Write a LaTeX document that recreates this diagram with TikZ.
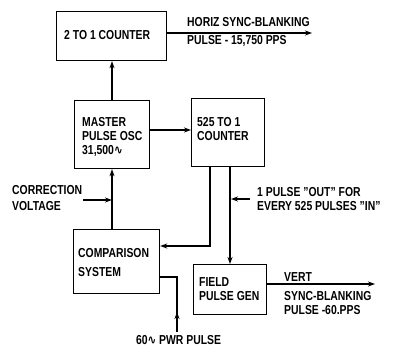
\documentclass[tikz,border=0pt]{standalone}
\usepackage{fontspec}
\setmainfont[FakeStretch=0.8]{Liberation Sans}
\newfontfamily\dvfont[FakeStretch=0.8]{DejaVu Sans}
\usetikzlibrary{arrows.meta}
\newcommand{\sinewave}{{\dvfont\bfseries\char"223F}}
\tikzset{
  blk/.style={draw, line width=1.2pt},
  wire/.style={line width=1.1pt},
  arr/.style={wire, -{Stealth[length=7pt,width=5pt]}},
  lbl/.style={font=\fontsize{13}{14}\selectfont\bfseries, inner sep=0pt, align=left, anchor=west},
}
\begin{document}
\begin{tikzpicture}[x=1pt,y=-1pt]
\useasboundingbox (0,0) rectangle (400,350);
% boxes
\node[blk, minimum width=110pt, minimum height=49pt, anchor=north west] (c2) at (56,11) {};
\node[blk, minimum width=75pt, minimum height=68pt, anchor=north west] (mas) at (74,100) {};
\node[blk, minimum width=73pt, minimum height=68pt, anchor=north west] (c525) at (191,98) {};
\node[blk, minimum width=86pt, minimum height=64pt, anchor=north west] (cmp) at (73,229) {};
\node[blk, minimum width=73pt, minimum height=50pt, anchor=north west] (fld) at (193,264) {};
% box texts
\node[lbl] (t2) at (64,35) {2 TO 1 COUNTER};
\node[lbl] (tm) at (82,137) {MASTER\\PULSE OSC\\31,500\sinewave};
\node[lbl] (t525) at (197,129.5) {525 TO 1\\COUNTER};
\node[lbl] (tc) at (78,262.5) {COMPARISON\\[5pt]SYSTEM};
\node[lbl] (tf) at (199,289.5) {FIELD\\PULSE GEN};
% external labels
\node[lbl] (h1) at (187,22) {HORIZ SYNC-BLANKING};
\node[lbl] (h2) at (187,41) {PULSE - 15,750 PPS};
\node[lbl] (ann) at (257,199) {1 PULSE "OUT" FOR\\EVERY 525 PULSES "IN"};
\node[lbl] (corr) at (12,198.5) {CORRECTION\\[2pt]VOLTAGE};
\node[lbl] (vert) at (284,277) {VERT};
\node[lbl] (vs) at (284,303.5) {SYNC-BLANKING\\PULSE -60.PPS};
\node[lbl, anchor=center] (pwr) at (178.5,340) {60\sinewave{} PWR PULSE};
% coordinates
\coordinate (hout) at (312,33);
\coordinate (vout) at (375,284);
\coordinate (corrs) at (83,200);
\coordinate (corre) at (112,200);
\coordinate (anns) at (250,199);
\coordinate (anne) at (231,199);
\coordinate (pwrs) at (177,332);
\coordinate (pwrm) at (177,312);
\coordinate (pwrc) at (177,277);
\coordinate (fbk) at (210,246);
% connectors
\draw[arr] (mas.north -| 112,0) -- (c2.south -| 112,0);
\draw[arr] (c2.east |- hout) -- (hout);
\draw[arr] (mas.east |- 0,130) -- (c525.west |- 0,130);
\draw[arr] (c525.south -| fbk) -- (fbk) -- (cmp.east |- fbk);
\draw[arr] (c525.south -| 230,0) -- (fld.north -| 230,0);
\draw[arr] (anns) -- (anne);
\draw[arr] (cmp.north -| 112,0) -- (mas.south -| 112,0);
\draw[arr] (corrs) -- (corre);
\draw[wire] (pwrs) -- (pwrc) -- (cmp.east |- pwrc);
\draw[arr] (pwrs) -- (pwrm);
\draw[arr] (fld.east |- vout) -- (vout);
\end{tikzpicture}
\end{document}
